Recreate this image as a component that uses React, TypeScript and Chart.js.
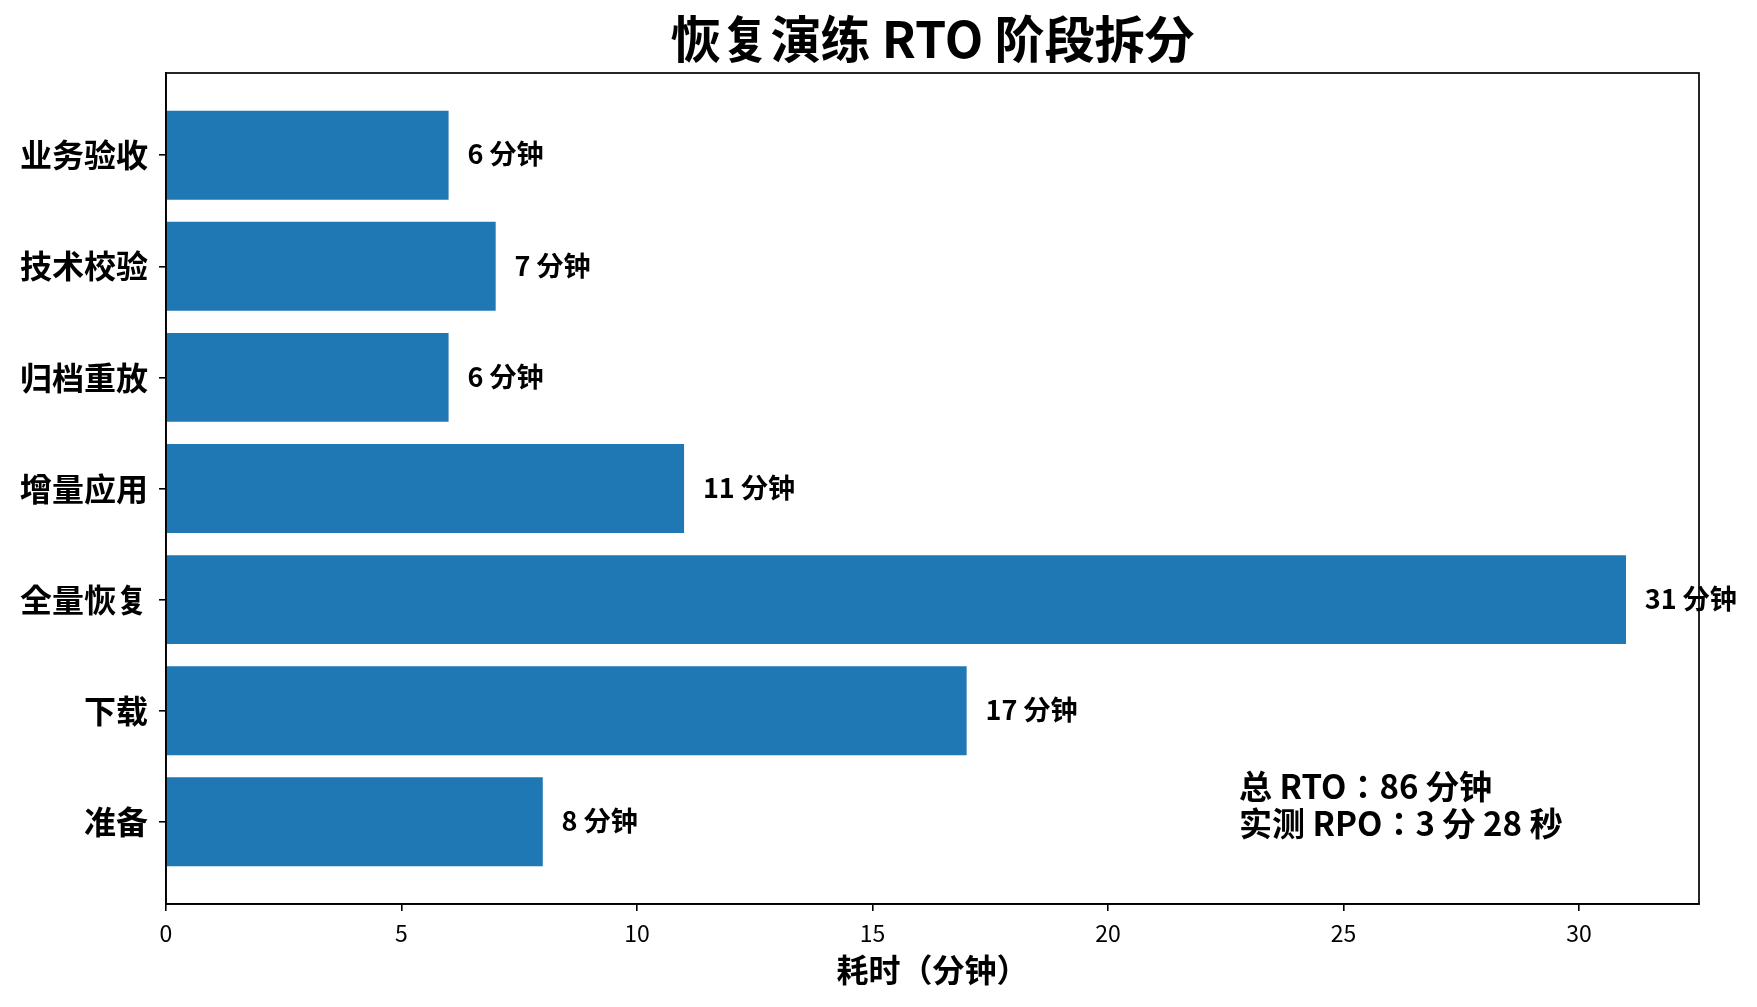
import React, { useEffect, useRef } from "react";
import { Chart, registerables } from "chart.js";

Chart.register(...registerables);

const categories = ["准备", "下载", "全量恢复", "增量应用", "归档重放", "技术校验", "业务验收"];
const minutes = [8, 17, 31, 11, 6, 7, 6];
const xTicks = [0, 5, 10, 15, 20, 25, 30];
const titleText = "恢复演练 RTO 阶段拆分";
const xLabel = "耗时（分钟）";
const noteLines = ["总 RTO：86 分钟", "实测 RPO：3 分 28 秒"];
const unit = " 分钟";

const FONT = "'Noto Sans CJK JP', 'Noto Sans CJK SC', 'Noto Sans', sans-serif";
const BAR = "#1f77b4";

export default function App() {
  const ref = useRef<HTMLCanvasElement | null>(null);

  useEffect(() => {
    const canvas = ref.current;
    if (!canvas) return;
    const xMax = Math.max(...minutes) * 1.05;
    const n = categories.length;
    const pad = 0.4 + 0.05 * (n - 1 + 0.8);

    const overlay = {
      id: "overlay",
      afterDatasetsDraw(chart: any) {
        const { ctx, chartArea, scales } = chart;
        const xs = scales.x;
        const ys = scales.y;
        ctx.save();
        // value labels
        ctx.fillStyle = "#000";
        ctx.font = `bold 27px ${FONT}`;
        ctx.textAlign = "left";
        ctx.textBaseline = "middle";
        minutes.forEach((v, i) => {
          ctx.fillText(`${v}${unit}`, xs.getPixelForValue(v + 0.4), ys.getPixelForValue(i) - 1);
        });
        // annotation
        ctx.font = `bold 33px ${FONT}`;
        const ax = chartArea.left + 0.7 * (chartArea.right - chartArea.left);
        const h = chartArea.bottom - chartArea.top;
        ctx.fillText(noteLines[0], ax, chartArea.bottom - 0.1414 * h);
        ctx.fillText(noteLines[1], ax, chartArea.bottom - 0.0965 * h);
        // frame
        ctx.strokeStyle = "#000";
        ctx.lineWidth = 1.7;
        ctx.strokeRect(chartArea.left, chartArea.top, chartArea.right - chartArea.left, chartArea.bottom - chartArea.top);
        // title
        ctx.font = `bold 50px ${FONT}`;
        ctx.textAlign = "center";
        ctx.fillText(titleText, (chartArea.left + chartArea.right) / 2, 39);
        ctx.restore();
      },
    };

    const chart = new Chart(canvas, {
      type: "bar",
      data: {
        datasets: [
          {
            data: minutes.map((v, i) => ({ x: v, y: i })),
            backgroundColor: BAR,
            borderWidth: 0,
            barPercentage: 0.8,
            categoryPercentage: 1.0,
          },
        ],
      },
      options: {
        indexAxis: "y",
        animation: false,
        responsive: false,
        devicePixelRatio: 1,
        layout: { padding: { top: 73, right: 58, left: 0, bottom: 0 } },
        plugins: {
          legend: { display: false },
          tooltip: { enabled: false },
          title: { display: false },
        },
        scales: {
          x: {
            type: "linear",
            min: 0,
            max: xMax,
            offset: false,
            afterBuildTicks: (s: any) => {
              s.ticks = xTicks.map((v) => ({ value: v }));
            },
            afterFit: (s: any) => {
              s.height = 103;
            },
            grid: {
              display: true,
              offset: false,
              drawOnChartArea: false,
              drawTicks: true,
              tickLength: 7,
              color: "#000",
              lineWidth: 1.6,
            },
            border: { display: true, color: "#000", width: 1.7 },
            ticks: {
              color: "#000",
              font: { family: FONT, size: 23 },
              padding: 8,
              maxRotation: 0,
              autoSkip: false,
            },
            title: {
              display: true,
              text: xLabel,
              color: "#000",
              font: { family: FONT, size: 32, weight: "bold" },
              padding: { top: 0, bottom: 18 },
            },
          },
          y: {
            type: "linear",
            min: -pad,
            max: n - 1 + pad,
            offset: false,
            afterBuildTicks: (s: any) => {
              s.ticks = categories.map((_, i) => ({ value: i }));
            },
            afterFit: (s: any) => {
              s.width = 166;
            },
            grid: {
              display: true,
              offset: false,
              drawOnChartArea: false,
              drawTicks: true,
              tickLength: 7,
              color: "#000",
              lineWidth: 1.6,
            },
            border: { display: true, color: "#000", width: 1.7 },
            ticks: {
              color: "#000",
              font: { family: FONT, size: 32, weight: "bold" },
              padding: 11,
              autoSkip: false,
              callback: (v: any) => categories[Math.round(Number(v))] ?? "",
            },
          },
        },
      },
      plugins: [overlay],
    } as any);

    return () => chart.destroy();
  }, []);

  return (
    <div style={{ position: "absolute", left: 0, top: 0, width: 1757, height: 1007, background: "#fff" }}>
      <canvas ref={ref} width={1757} height={1007} style={{ width: 1757, height: 1007, display: "block" }} />
    </div>
  );
}
